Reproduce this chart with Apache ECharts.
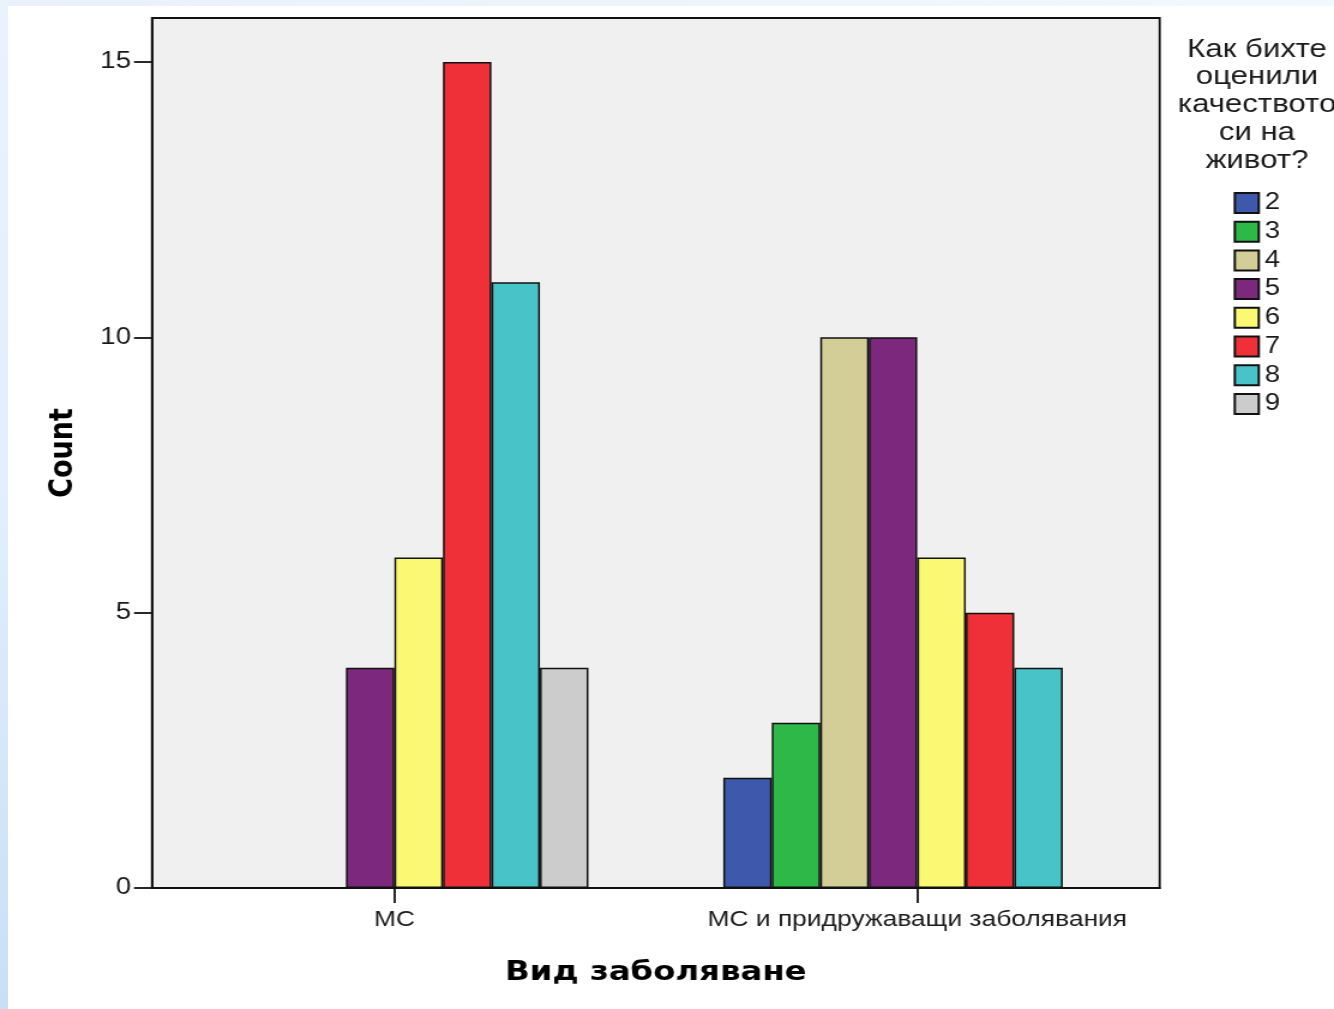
<!DOCTYPE html>
<html>
<head>
<meta charset="utf-8">
<script src="https://cdn.jsdelivr.net/npm/echarts@6/dist/echarts.min.js"></script>
<style>
  html, body { margin: 0; padding: 0; background: #ffffff; overflow: hidden; }
  #frameTop { position: absolute; left: 0; top: 0; width: 1334px; height: 6px;
    background: linear-gradient(to right, #e8f1fb, #f3f8fd); }
  #frameLeft { position: absolute; left: 0; top: 0; width: 8px; height: 1009px;
    background: linear-gradient(to bottom, #eaf3fc, #e2eefb 50%, #c8dff7); }
  /* the chart is laid out on a narrower canvas and widened horizontally,
     giving the broad, stretched lettering of the exported figure */
  #chart { position: absolute; left: 0; top: 0; width: 1112px; height: 1009px;
    transform-origin: 0 0; transform: scaleX(1.19964); }
</style>
</head>
<body>
<div id="frameTop"></div>
<div id="frameLeft"></div>
<div id="chart"></div>
<script>
// Disease type categories on the x axis
const categories = ['МС', 'МС и придружаващи заболявания'];
// Quality-of-life ratings (legend entries)
const ratings = ['2', '3', '4', '5', '6', '7', '8', '9'];
// Counts per rating: [МС, МС и придружаващи заболявания]
const rating2 = [null, 2];
const rating3 = [null, 3];
const rating4 = [null, 10];
const rating5 = [4, 10];
const rating6 = [6, 6];
const rating7 = [15, 5];
const rating8 = [11, 4];
const rating9 = [4, null];
const yTicks = [0, 5, 10, 15];

const countsByRating = [rating2, rating3, rating4, rating5, rating6, rating7, rating8, rating9];
const colors = ['#3e58ac', '#2eb848', '#d3ce97', '#7b287d', '#fbf873', '#ef3038', '#48c4c8', '#cccccc'];

const chart = echarts.init(document.getElementById('chart'), null, { renderer: 'canvas' });

const series = ratings.map((r, i) => ({
  name: r,
  type: 'bar',
  barWidth: 40.43,
  barGap: '0%',
  itemStyle: { color: colors[i], borderColor: '#111', borderWidth: 1.5 },
  emphasis: { disabled: true },
  data: countsByRating[i].map((v, k) => [k + 1, v])
}));

// category centres sit at x = 1 and x = 2, with equal padding on both sides
const pad = 0.46367;

chart.setOption({
  animation: false,
  title: {
    text: 'Как бихте\nоценили\nкачеството\nси на\nживот?',
    left: 1047.8,
    top: 35.5,
    textAlign: 'center',
    padding: 0,
    textStyle: { fontFamily: 'Liberation Sans', fontSize: 26, fontWeight: 'normal', color: '#1a1a1a', lineHeight: 27.8 }
  },
  legend: {
    data: ratings,
    orient: 'vertical',
    left: 1028.3,
    top: 191.5,
    padding: 0,
    itemWidth: 20,
    itemHeight: 20,
    itemGap: 5.7,
    icon: 'rect',
    selectedMode: false,
    textStyle: { fontFamily: 'Liberation Sans', fontSize: 23, color: '#1a1a1a' }
  },
  grid: {
    left: 126.7, top: 18, right: 145.3, bottom: 121,
    show: true, backgroundColor: '#f0f0f0', borderColor: '#111', borderWidth: 1.8
  },
  xAxis: {
    type: 'value',
    min: 1 - pad,
    max: 2 + pad,
    name: 'Вид заболяване',
    nameLocation: 'middle',
    nameGap: 71,
    nameTextStyle: { fontFamily: 'DejaVu Sans', fontWeight: 'bold', fontSize: 27, color: '#000' },
    axisLine: { show: true, lineStyle: { color: '#111', width: 1.8 } },
    axisTick: { show: true, length: 15, customValues: [1, 2], lineStyle: { color: '#111', width: 1.8 } },
    axisLabel: {
      customValues: [1, 2],
      formatter: v => categories[Math.round(v) - 1],
      margin: 21,
      fontFamily: 'Liberation Sans', fontSize: 22, color: '#1a1a1a'
    },
    splitLine: { show: false }
  },
  yAxis: {
    type: 'value',
    min: 0,
    max: 15.8,
    name: 'Count',
    nameLocation: 'middle',
    nameRotate: 90,
    nameGap: 60,
    nameTextStyle: { fontFamily: 'DejaVu Sans', fontWeight: 'bold', fontSize: 27, color: '#000' },
    axisLine: { show: true, lineStyle: { color: '#111', width: 1.8 } },
    axisTick: { show: true, length: 15, customValues: yTicks, lineStyle: { color: '#111', width: 1.8 } },
    axisLabel: {
      customValues: yTicks,
      margin: 17.5,
      padding: [4, 0, 0, 0],
      fontFamily: 'Liberation Sans', fontSize: 23, color: '#1a1a1a'
    },
    splitLine: { show: false }
  },
  series: series
});
</script>
</body>
</html>
